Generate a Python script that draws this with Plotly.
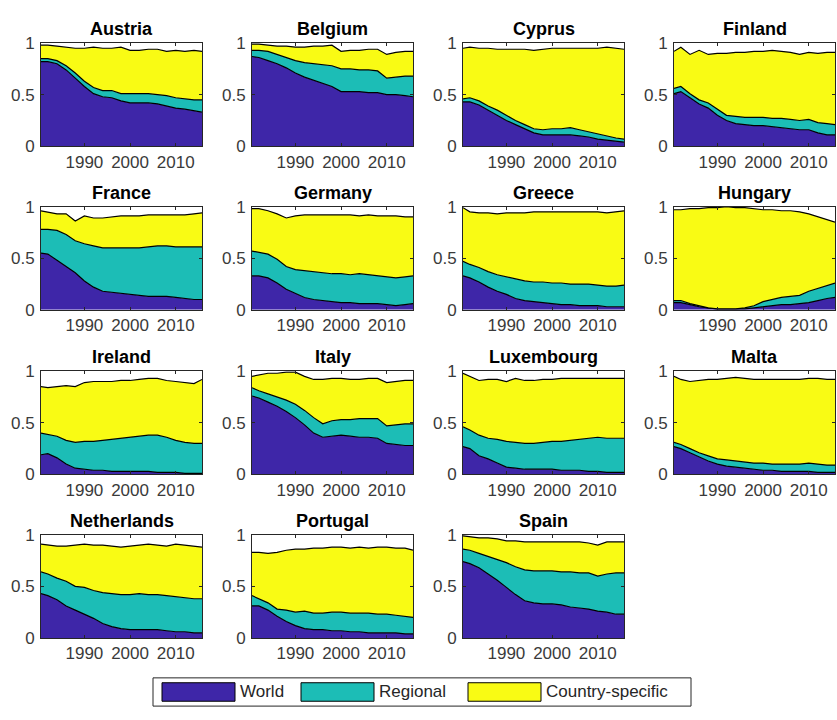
import plotly.graph_objects as go

YEARS = [1980.5, 1982, 1984, 1986, 1988, 1990, 1992, 1994, 1996, 1998,
         2000, 2002, 2004, 2006, 2008, 2010, 2012, 2014, 2015.75]

COUNTRIES = ["Austria", "Belgium", "Cyprus", "Finland",
             "France", "Germany", "Greece", "Hungary",
             "Ireland", "Italy", "Luxembourg", "Malta",
             "Netherlands", "Portugal", "Spain"]

SERIES_NAMES = ["World", "Regional", "Country-specific"]
XTICKS = [1990, 2000, 2010]
YTICKS = [0, 0.5, 1]
YTICK_LABELS = ["0", "0.5", "1"]

# Upper edge of the World band (share explained by world factor)
WORLD = {
    "Austria":     [0.82,0.82,0.80,0.74,0.66,0.58,0.51,0.48,0.47,0.44,0.42,0.42,0.42,0.41,0.39,0.37,0.36,0.34,0.33],
    "Belgium":     [0.87,0.86,0.83,0.80,0.76,0.71,0.67,0.64,0.61,0.58,0.53,0.53,0.53,0.52,0.52,0.50,0.50,0.49,0.48],
    "Cyprus":      [0.43,0.43,0.40,0.35,0.30,0.25,0.21,0.17,0.13,0.11,0.11,0.11,0.11,0.10,0.09,0.07,0.06,0.05,0.04],
    "Finland":     [0.51,0.53,0.47,0.41,0.37,0.30,0.25,0.22,0.21,0.20,0.20,0.19,0.18,0.17,0.16,0.16,0.13,0.11,0.11],
    "France":      [0.55,0.54,0.48,0.42,0.36,0.28,0.22,0.18,0.17,0.16,0.15,0.14,0.13,0.13,0.13,0.12,0.11,0.10,0.10],
    "Germany":     [0.33,0.33,0.31,0.26,0.20,0.16,0.12,0.10,0.09,0.08,0.07,0.07,0.06,0.06,0.06,0.05,0.04,0.05,0.06],
    "Greece":      [0.33,0.31,0.27,0.22,0.18,0.15,0.11,0.09,0.08,0.07,0.06,0.05,0.05,0.04,0.04,0.04,0.03,0.03,0.03],
    "Hungary":     [0.07,0.07,0.05,0.03,0.02,0.01,0.01,0.01,0.01,0.02,0.03,0.04,0.05,0.05,0.06,0.07,0.09,0.11,0.12],
    "Ireland":     [0.19,0.20,0.16,0.10,0.06,0.05,0.04,0.04,0.03,0.03,0.03,0.03,0.03,0.02,0.02,0.02,0.01,0.01,0.01],
    "Italy":       [0.76,0.74,0.70,0.66,0.61,0.55,0.48,0.40,0.36,0.37,0.38,0.37,0.36,0.36,0.35,0.30,0.29,0.28,0.28],
    "Luxembourg":  [0.27,0.25,0.18,0.15,0.11,0.07,0.06,0.05,0.05,0.05,0.05,0.04,0.04,0.04,0.03,0.03,0.02,0.02,0.02],
    "Malta":       [0.27,0.25,0.21,0.17,0.13,0.10,0.08,0.07,0.06,0.05,0.04,0.04,0.03,0.03,0.03,0.03,0.02,0.02,0.02],
    "Netherlands": [0.43,0.41,0.37,0.31,0.27,0.23,0.19,0.14,0.11,0.09,0.08,0.08,0.08,0.08,0.07,0.06,0.06,0.05,0.05],
    "Portugal":    [0.31,0.31,0.27,0.21,0.16,0.12,0.09,0.08,0.08,0.07,0.07,0.06,0.06,0.05,0.05,0.05,0.05,0.04,0.04],
    "Spain":       [0.74,0.72,0.68,0.62,0.56,0.49,0.42,0.36,0.34,0.33,0.33,0.32,0.30,0.29,0.28,0.26,0.25,0.23,0.23],
}

# Upper edge of the Regional band (World + Regional, cumulative)
WORLD_REGIONAL = {
    "Austria":     [0.85,0.85,0.83,0.78,0.71,0.63,0.57,0.54,0.54,0.51,0.51,0.51,0.51,0.50,0.49,0.47,0.46,0.45,0.45],
    "Belgium":     [0.93,0.93,0.92,0.89,0.86,0.83,0.81,0.80,0.79,0.78,0.75,0.75,0.74,0.74,0.73,0.66,0.67,0.68,0.68],
    "Cyprus":      [0.46,0.47,0.44,0.39,0.35,0.30,0.25,0.21,0.17,0.16,0.17,0.17,0.18,0.16,0.14,0.12,0.10,0.08,0.07],
    "Finland":     [0.56,0.58,0.51,0.45,0.42,0.36,0.30,0.29,0.28,0.28,0.28,0.27,0.27,0.26,0.25,0.26,0.23,0.22,0.21],
    "France":      [0.78,0.78,0.77,0.73,0.67,0.64,0.62,0.60,0.60,0.60,0.60,0.60,0.61,0.62,0.62,0.61,0.61,0.61,0.61],
    "Germany":     [0.57,0.56,0.54,0.49,0.42,0.39,0.38,0.37,0.36,0.35,0.35,0.34,0.35,0.34,0.33,0.32,0.31,0.32,0.33],
    "Greece":      [0.47,0.44,0.41,0.37,0.34,0.32,0.30,0.28,0.27,0.27,0.26,0.26,0.25,0.25,0.25,0.24,0.23,0.23,0.24],
    "Hungary":     [0.09,0.09,0.06,0.04,0.02,0.01,0.01,0.01,0.02,0.04,0.08,0.10,0.12,0.13,0.14,0.18,0.21,0.24,0.26],
    "Ireland":     [0.40,0.39,0.37,0.33,0.31,0.32,0.32,0.33,0.34,0.35,0.36,0.37,0.38,0.38,0.36,0.33,0.31,0.30,0.30],
    "Italy":       [0.84,0.81,0.78,0.75,0.72,0.68,0.62,0.55,0.49,0.52,0.53,0.53,0.54,0.54,0.54,0.47,0.48,0.49,0.49],
    "Luxembourg":  [0.46,0.43,0.38,0.35,0.34,0.32,0.31,0.30,0.30,0.31,0.32,0.32,0.33,0.34,0.35,0.36,0.35,0.35,0.35],
    "Malta":       [0.31,0.29,0.25,0.21,0.18,0.15,0.14,0.13,0.12,0.11,0.11,0.10,0.10,0.10,0.10,0.11,0.10,0.09,0.09],
    "Netherlands": [0.64,0.62,0.58,0.55,0.50,0.49,0.46,0.44,0.43,0.42,0.42,0.43,0.42,0.42,0.41,0.40,0.39,0.38,0.38],
    "Portugal":    [0.41,0.38,0.34,0.28,0.27,0.25,0.26,0.24,0.24,0.25,0.25,0.24,0.24,0.24,0.23,0.23,0.22,0.21,0.20],
    "Spain":       [0.86,0.85,0.82,0.79,0.76,0.73,0.69,0.66,0.65,0.65,0.65,0.64,0.64,0.63,0.63,0.60,0.62,0.63,0.63],
}

# Upper edge of the Country-specific band (total explained share)
TOTAL = {
    "Austria":     [0.98,0.98,0.97,0.96,0.95,0.95,0.96,0.95,0.95,0.96,0.93,0.93,0.94,0.94,0.92,0.93,0.92,0.93,0.92],
    "Belgium":     [0.99,0.99,0.98,0.97,0.97,0.96,0.96,0.97,0.97,0.98,0.92,0.93,0.93,0.94,0.94,0.89,0.91,0.92,0.92],
    "Cyprus":      [0.95,0.96,0.95,0.95,0.94,0.94,0.94,0.94,0.93,0.94,0.95,0.95,0.95,0.95,0.95,0.95,0.96,0.95,0.94],
    "Finland":     [0.92,0.96,0.89,0.93,0.89,0.90,0.90,0.91,0.91,0.92,0.92,0.93,0.92,0.91,0.89,0.91,0.90,0.91,0.91],
    "France":      [0.96,0.95,0.93,0.93,0.86,0.91,0.89,0.89,0.90,0.91,0.91,0.91,0.92,0.92,0.92,0.92,0.92,0.93,0.94],
    "Germany":     [0.98,0.98,0.96,0.93,0.89,0.91,0.92,0.92,0.92,0.92,0.92,0.92,0.91,0.92,0.91,0.91,0.91,0.90,0.90],
    "Greece":      [0.99,0.95,0.94,0.94,0.93,0.94,0.94,0.94,0.95,0.95,0.95,0.95,0.95,0.95,0.95,0.95,0.94,0.95,0.96],
    "Hungary":     [0.97,0.97,0.98,0.98,0.99,0.99,1.00,0.99,0.99,0.98,0.97,0.97,0.96,0.96,0.95,0.93,0.90,0.87,0.85],
    "Ireland":     [0.85,0.84,0.85,0.86,0.85,0.89,0.90,0.90,0.90,0.91,0.91,0.92,0.93,0.93,0.91,0.90,0.89,0.88,0.92],
    "Italy":       [0.95,0.96,0.98,0.98,0.99,0.99,0.95,0.92,0.92,0.93,0.93,0.92,0.92,0.93,0.93,0.89,0.90,0.91,0.91],
    "Luxembourg":  [0.98,0.95,0.91,0.92,0.92,0.90,0.93,0.91,0.91,0.92,0.92,0.93,0.93,0.93,0.93,0.93,0.93,0.93,0.93],
    "Malta":       [0.95,0.92,0.90,0.91,0.92,0.92,0.93,0.94,0.93,0.92,0.92,0.92,0.92,0.92,0.92,0.93,0.93,0.92,0.92],
    "Netherlands": [0.91,0.90,0.89,0.89,0.90,0.91,0.90,0.90,0.89,0.88,0.89,0.90,0.91,0.90,0.89,0.91,0.90,0.89,0.88],
    "Portugal":    [0.83,0.83,0.82,0.83,0.85,0.86,0.86,0.87,0.87,0.88,0.88,0.87,0.88,0.87,0.88,0.88,0.87,0.87,0.85],
    "Spain":       [0.99,0.98,0.97,0.97,0.96,0.94,0.94,0.93,0.93,0.93,0.93,0.93,0.93,0.93,0.92,0.90,0.93,0.93,0.93],
}

COLORS = ["#3E26A8", "#1CBDB6", "#F9FB14"]
W, H = 837, 720
AX_COLOR = "#262626"
FONT = "Liberation Sans, Arial, Helvetica, sans-serif"

# layout geometry (pixels)
COL_LEFT = [41, 252, 463, 674]
ROW_TOP = [35, 203, 372, 540]
AX_W, AX_H = 161, 106

fig = go.Figure()
layout = dict(width=W, height=H, margin=dict(l=0, r=0, t=0, b=0),
              paper_bgcolor="white", plot_bgcolor="white", showlegend=False,
              font=dict(family=FONT, size=17, color=AX_COLOR))
annotations = []
shapes = []

for i, country in enumerate(COUNTRIES):
    r, c = divmod(i, 4)
    n = i + 1
    xa = "x" if n == 1 else f"x{n}"
    ya = "y" if n == 1 else f"y{n}"
    x0 = COL_LEFT[c] / W
    x1 = (COL_LEFT[c] + AX_W) / W
    y1 = 1 - ROW_TOP[r] / H
    y0 = 1 - (ROW_TOP[r] + AX_H) / H
    bounds = [WORLD[country], WORLD_REGIONAL[country], TOTAL[country]]
    for k, (name, vals) in enumerate(zip(SERIES_NAMES, bounds)):
        fig.add_trace(go.Scatter(
            x=YEARS, y=vals, name=name, xaxis=xa, yaxis=ya,
            mode="lines", line=dict(color="black", width=1.2),
            fill="tozeroy" if k == 0 else "tonexty",
            fillcolor=COLORS[k], hoverinfo="skip"))
    axcommon = dict(showline=True, linecolor=AX_COLOR, linewidth=1, mirror="ticks",
                    ticks="inside", ticklen=3, tickcolor=AX_COLOR, showgrid=False,
                    zeroline=False, tickfont=dict(family=FONT, size=17, color="#3a3a3a"))
    layout["xaxis" if n == 1 else f"xaxis{n}"] = dict(
        domain=[x0, x1], range=[1980.5, 2015.75], tickvals=XTICKS,
        anchor=ya, **axcommon)
    layout["yaxis" if n == 1 else f"yaxis{n}"] = dict(
        domain=[y0, y1], range=[0, 1], tickvals=YTICKS, ticktext=YTICK_LABELS,
        anchor=xa, ticklabelstandoff=2, **axcommon)
    annotations.append(dict(
        text=f"<b>{country}</b>", x=(x0 + x1) / 2, y=y1, xref="paper", yref="paper",
        xanchor="center", yanchor="bottom", yshift=2, showarrow=False,
        font=dict(family=FONT, size=18, color="black")))

# legend box (drawn manually to mimic MATLAB legend)
def px(x):
    return x / W

def py(y):
    return 1 - y / H

LEG_TOP, LEG_BOT = 687, 716
shapes.append(dict(type="rect", xref="paper", yref="paper",
                   x0=px(153), x1=px(691), y0=py(LEG_BOT), y1=py(LEG_TOP),
                   line=dict(color=AX_COLOR, width=1), fillcolor="white"))
patch_x = [162, 301, 468]
for k, name in enumerate(SERIES_NAMES):
    shapes.append(dict(type="rect", xref="paper", yref="paper",
                       x0=px(patch_x[k]), x1=px(patch_x[k] + 73),
                       y0=py(LEG_BOT - 5), y1=py(LEG_TOP + 5),
                       line=dict(color="black", width=1), fillcolor=COLORS[k]))
    annotations.append(dict(text=name, x=px(patch_x[k] + 76), y=py((LEG_TOP + LEG_BOT) / 2),
                            xref="paper", yref="paper", xanchor="left", yanchor="middle",
                            showarrow=False, font=dict(family=FONT, size=17, color=AX_COLOR)))

layout["annotations"] = annotations
layout["shapes"] = shapes
fig.update_layout(**layout)
fig.write_html("out.html", config={"displayModeBar": False},
               post_script="document.body.style.margin='0';document.body.style.overflow='hidden';")
